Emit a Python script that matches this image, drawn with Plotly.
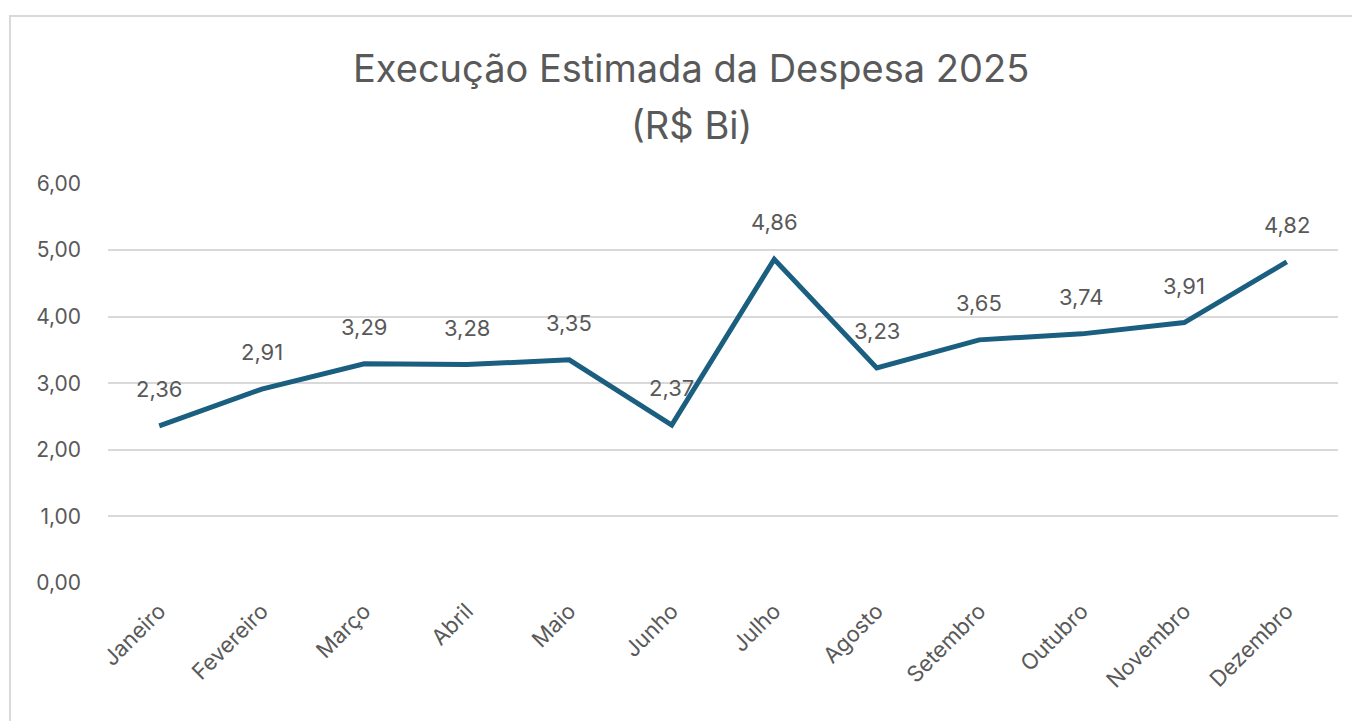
import plotly.graph_objects as go

meses = ["Janeiro", "Fevereiro", "Março", "Abril", "Maio", "Junho",
         "Julho", "Agosto", "Setembro", "Outubro", "Novembro", "Dezembro"]
despesa = [2.36, 2.91, 3.29, 3.28, 3.35, 2.37, 4.86, 3.23, 3.65, 3.74, 3.91, 4.82]

titulo = "Execução Estimada da Despesa 2025"
subtitulo = "(R$ Bi)"

cinza = "#595959"
azul = "#1a5e80"

fig = go.Figure(go.Scatter(
    x=meses, y=despesa, mode="lines",
    line=dict(color=azul, width=5),
    hoverinfo="skip",
))

for m, v in zip(meses, despesa):
    fig.add_annotation(x=m, y=v, text=f"{v:.2f}".replace(".", ","),
                       showarrow=False, yshift=37,
                       font=dict(size=22, color=cinza))

fig.add_annotation(text=titulo, xref="paper", yref="paper", x=0.474, y=1.2875,
                   xanchor="center", yanchor="middle", showarrow=False,
                   font=dict(size=38, color=cinza))
fig.add_annotation(text=subtitulo, xref="paper", yref="paper", x=0.474, y=1.145,
                   xanchor="center", yanchor="middle", showarrow=False,
                   font=dict(size=38, color=cinza))

fig.add_shape(type="rect", xref="paper", yref="paper",
              x0=-0.0797, x1=1.0146, y0=-0.4, y1=1.4175,
              line=dict(color="#d9d9d9", width=2), layer="below")

fig.update_layout(
    width=1352, height=713,
    margin=dict(l=100, r=22, t=175, b=138),
    paper_bgcolor="white", plot_bgcolor="white",
    font=dict(family="Inter, Arial, sans-serif", color=cinza),
    separators=",.",
    showlegend=False,
    xaxis=dict(range=[-0.5, 11.5], showgrid=False, showline=False, zeroline=False,
               tickangle=-45, tickfont=dict(size=22, color=cinza), ticks="",
               ticklabelstandoff=10),
    yaxis=dict(range=[0, 6.005], tickvals=[0, 1, 2, 3, 4, 5, 6], tickformat=".2f",
               showgrid=True, gridcolor="#d9d9d9", gridwidth=2, zeroline=False,
               showline=False, tickfont=dict(size=21, color=cinza),
               ticklabelstandoff=26, ticks=""),
)

fig.write_html("out.html")
